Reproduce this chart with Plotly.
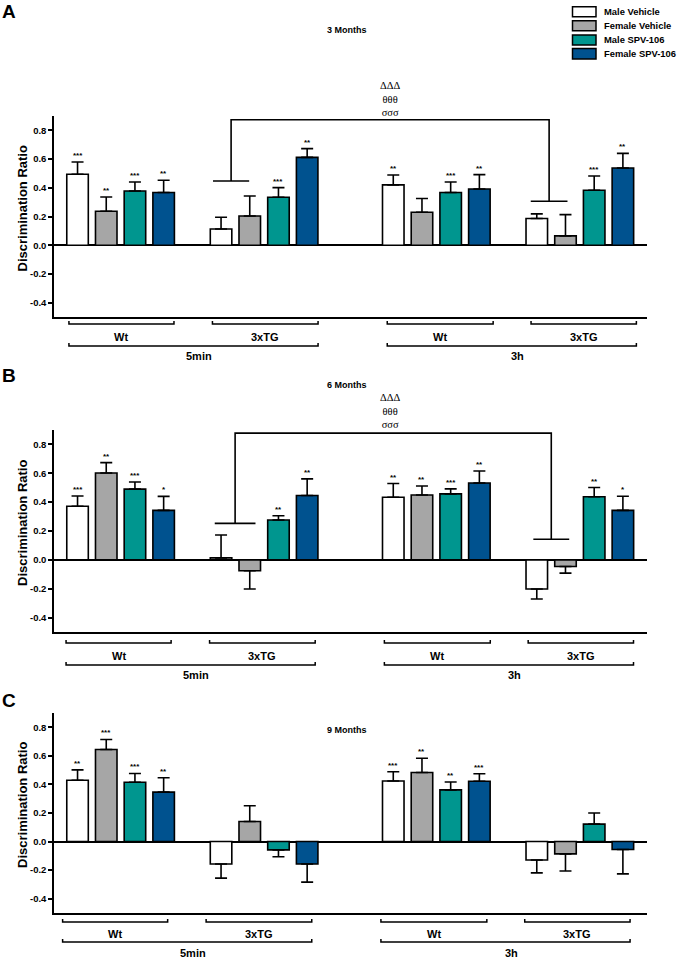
import plotly.graph_objects as go

W, H = 679, 959

# treatments (legend order) and their fills
treatments = ["Male Vehicle", "Female Vehicle", "Male SPV-106", "Female SPV-106"]
colors = ["#FFFFFF", "#A6A6A6", "#00968F", "#00528F"]

# group order: 5min-Wt, 5min-3xTG, 3h-Wt, 3h-3xTG ; 4 treatments each
groups = ["Wt", "3xTG", "Wt", "3xTG"]
delays = ["5min", "3h"]
panel_titles = ["3 Months", "6 Months", "9 Months"]
panel_letters = ["A", "B", "C"]

means_3m = [0.494, 0.237, 0.378, 0.367, 0.113, 0.204, 0.334, 0.612,
            0.420, 0.230, 0.367, 0.392, 0.186, 0.065, 0.383, 0.538]
sem_3m = [0.086, 0.099, 0.062, 0.085, 0.082, 0.139, 0.067, 0.061,
          0.069, 0.095, 0.073, 0.100, 0.032, 0.148, 0.099, 0.102]
stars_3m = ["***", "**", "***", "**", "", "", "***", "**",
            "**", "", "***", "**", "", "", "***", "**"]

means_6m = [0.372, 0.602, 0.490, 0.343, 0.014, -0.076, 0.276, 0.446,
            0.434, 0.450, 0.457, 0.533, -0.202, -0.046, 0.437, 0.343]
sem_6m = [0.071, 0.072, 0.050, 0.097, 0.158, 0.126, 0.030, 0.115,
          0.095, 0.062, 0.035, 0.083, 0.069, 0.046, 0.064, 0.098]
stars_6m = ["***", "**", "***", "*", "", "", "**", "**",
            "**", "**", "***", "**", "", "", "**", "*"]

means_9m = [0.429, 0.644, 0.415, 0.346, -0.157, 0.140, -0.058, -0.157,
            0.424, 0.484, 0.362, 0.422, -0.129, -0.086, 0.122, -0.055]
sem_9m = [0.073, 0.071, 0.062, 0.101, 0.099, 0.111, 0.048, 0.127,
          0.065, 0.099, 0.055, 0.053, 0.090, 0.120, 0.078, 0.171]
stars_9m = ["**", "***", "***", "**", "", "", "", "",
            "***", "**", "**", "***", "", "", "", ""]

ytick_vals = [-0.4, -0.2, 0.0, 0.2, 0.4, 0.6, 0.8]

panels = [(means_3m, sem_3m, stars_3m), (means_6m, sem_6m, stars_6m),
          (means_9m, sem_9m, stars_9m)]

group_start = [0, 5, 11, 16]


def fx(px):
    return px / W


def fy(px):
    return 1 - px / H


def note(**kw):
    # annotations with explicit anchors (paper "auto" anchoring shifts them)
    d = dict(showarrow=False, xanchor="center", yanchor="middle")
    d.update(kw)
    return d


# plot area of each panel in pixels (top, bottom)
panel_px = [(116, 317), (430, 632), (713, 913)]
x_dom = [fx(54), fx(647)]

fig = go.Figure()
shapes = []
annotations = []
font_b = "Arial, Liberation Sans, sans-serif"

for p, (means, sems, stars) in enumerate(panels):
    sfx = "" if p == 0 else str(p + 1)
    xr, yr = "x" + sfx, "y" + sfx
    for t, name in enumerate(treatments):
        xs = [group_start[g] + t for g in range(4)]
        ys = [means[4 * g + t] for g in range(4)]
        es = [sems[4 * g + t] for g in range(4)]
        up = [e if v >= 0 else 0 for v, e in zip(ys, es)]
        dn = [e if v < 0 else 0 for v, e in zip(ys, es)]
        fig.add_trace(go.Bar(
            x=xs, y=ys, width=0.75, name=name, showlegend=False,
            marker=dict(color=colors[t], line=dict(color="black", width=1.6)),
            error_y=dict(type="data", symmetric=False, array=up, arrayminus=dn,
                         color="black", thickness=1.6, width=6),
            xaxis=xr, yaxis=yr,
        ))
        for g in range(4):
            s = stars[4 * g + t]
            if s:
                annotations.append(note(
                    x=xs[g], y=ys[g] + up[g], xref=xr, yref=yr, text="<b>" + s + "</b>",
                    yanchor="bottom", yshift=0,
                    font=dict(size=8, color="black", family=font_b)))

    top, bot = panel_px[p]
    fig.layout["xaxis" + sfx] = dict(
        domain=x_dom, anchor=yr, range=[-0.82, 19.84], showline=True,
        linecolor="black", linewidth=1.5, showticklabels=False, ticks="",
        showgrid=False, zeroline=False, fixedrange=True)
    fig.layout["yaxis" + sfx] = dict(
        domain=[fy(bot), fy(top)], anchor=xr, range=[-0.5, 0.9], showline=True,
        linecolor="black", linewidth=1.5, ticks="outside", ticklen=4, tickwidth=1.5,
        tickcolor="black", tickvals=ytick_vals,
        ticktext=["%.1f" % v for v in ytick_vals],
        tickfont=dict(size=9.5, color="black", family=font_b, weight="bold"),
        showgrid=False, zeroline=True, zerolinecolor="black", zerolinewidth=1.5,
        fixedrange=True)

    # y title
    annotations.append(note(
        x=fx(22), y=fy((top + bot) / 2 - 8), xref="paper", yref="paper",
        text="<b>Discrimination Ratio</b>", textangle=-90,
        font=dict(size=13, color="black", family=font_b)))

# panel titles and letters
title_px = [30, 385, 730]
letter_px = [(9, 12), (9, 376), (9, 700)]
for p in range(3):
    annotations.append(note(
        x=fx(347), y=fy(title_px[p]), xref="paper", yref="paper",
        text="<b>" + panel_titles[p] + "</b>",
        font=dict(size=9, color="black", family=font_b)))
    annotations.append(note(
        x=fx(letter_px[p][0]), y=fy(letter_px[p][1]), xref="paper", yref="paper",
        text="<b>" + panel_letters[p] + "</b>",
        font=dict(size=19, color="black", family=font_b)))

# group brackets under the axes
sub_x = [(-0.3, 3.36), (4.7, 8.38), (10.79, 14.48), (15.8, 19.47)]
delay_x = [(-0.3, 8.38), (10.79, 19.47)]
x_shift = [0.0, -0.1, -0.22]
rows_px = [(324, 337, 346, 356), (643, 656, 665, 675), (922, 934, 942, 953)]
tick = 3 / H
for p in range(3):
    xr = "x" if p == 0 else "x" + str(p + 1)
    l1, t1, l2, t2 = rows_px[p]
    for g, (a, b) in enumerate(sub_x):
        a += x_shift[p]
        b += x_shift[p]
        shapes.append(dict(
            type="path", xref=xr, yref="paper",
            path=f"M {a},{fy(l1) + tick} L {a},{fy(l1)} L {b},{fy(l1)} L {b},{fy(l1) + tick}",
            line=dict(color="black", width=1.5)))
        annotations.append(note(
            x=(a + b) / 2, y=fy(t1), xref=xr, yref="paper", text="<b>" + groups[g] + "</b>",
            font=dict(size=11, color="black", family=font_b)))
    for d, (a, b) in enumerate(delay_x):
        a += x_shift[p]
        b += x_shift[p]
        shapes.append(dict(
            type="path", xref=xr, yref="paper",
            path=f"M {a},{fy(l2) + tick} L {a},{fy(l2)} L {b},{fy(l2)} L {b},{fy(l2) + tick}",
            line=dict(color="black", width=1.5)))
        annotations.append(note(
            x=(a + b) / 2 + 0.2, y=fy(t2), xref=xr, yref="paper", text="<b>" + delays[d] + "</b>",
            font=dict(size=11, color="black", family=font_b)))

# significance brackets (3xTG 5min vs 3h vehicle)
sig = [
    ("x", "y", (4.72, 5.98, 0.447), (15.79, 17.07, 0.306), 0.874, 99),
    ("x2", "y2", (4.78, 6.2, 0.253), (15.88, 17.13, 0.143), 0.878, 410.5),
]
for xr, yr, (a0, a1, ay), (b0, b1, by), ytop, sym_px in sig:
    ca = (a0 + a1) / 2
    cb = (b0 + b1) / 2
    shapes.append(dict(
        type="path", xref=xr, yref=yr,
        path=(f"M {a0},{ay} L {a1},{ay} M {ca},{ay} L {ca},{ytop} L {cb},{ytop} "
              f"L {cb},{by} M {b0},{by} L {b1},{by}"),
        line=dict(color="black", width=1.6)))
    annotations.append(note(
        x=10.9, y=fy(sym_px), xref=xr, yref="paper", text="ΔΔΔ<br>θθθ<br>σσσ",
        font=dict(size=10.5, color="black", family="Liberation Serif, serif")))

# legend
leg_rows = [(6.7, 16.7), (20.7, 30.7), (35, 45), (48.5, 59)]
for t, name in enumerate(treatments):
    y0, y1 = leg_rows[t]
    shapes.append(dict(
        type="rect", xref="paper", yref="paper", x0=fx(572.5), x1=fx(596),
        y0=fy(y1), y1=fy(y0), fillcolor=colors[t], line=dict(color="black", width=1.5)))
    annotations.append(note(
        x=fx(602), y=fy((y0 + y1) / 2), xref="paper", yref="paper",
        text="<b>" + name + "</b>", xanchor="left",
        font=dict(size=9.4, color="black", family=font_b)))

fig.update_layout(
    width=W, height=H, margin=dict(l=0, r=0, t=0, b=0),
    barmode="overlay", showlegend=False,
    plot_bgcolor="white", paper_bgcolor="white",
    shapes=shapes, annotations=annotations,
)

# drop the default page margin so the figure sits at the window's corner
fig.write_html("out.html", config={"displayModeBar": False},
               post_script="document.body.style.margin='0';")
